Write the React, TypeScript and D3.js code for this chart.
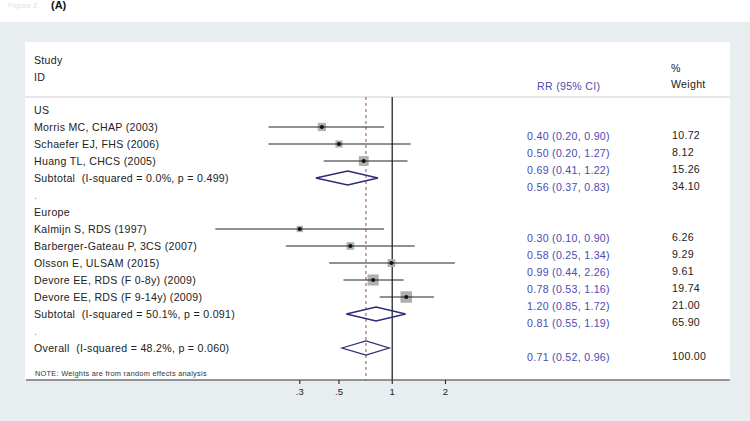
import * as d3 from "d3";

const WIDTH = 750;
const HEIGHT = 421;
const FONT = "'Liberation Sans', Arial, Helvetica, sans-serif";

// rows of the forest plot, top to bottom
const rowLabels = [
  "US",
  "Morris MC, CHAP (2003)",
  "Schaefer EJ, FHS (2006)",
  "Huang TL, CHCS (2005)",
  "Subtotal  (I-squared = 0.0%, p = 0.499)",
  ".",
  "Europe",
  "Kalmijn S, RDS (1997)",
  "Barberger-Gateau P, 3CS (2007)",
  "Olsson E, ULSAM (2015)",
  "Devore EE, RDS (F 0-8y) (2009)",
  "Devore EE, RDS (F 9-14y) (2009)",
  "Subtotal  (I-squared = 50.1%, p = 0.091)",
  ".",
  "Overall  (I-squared = 48.2%, p = 0.060)",
];
const rowKinds = [
  "group", "study", "study", "study", "pooled", "blank",
  "group", "study", "study", "study", "study", "study", "pooled", "blank",
  "pooled",
];
const rrValues = [null, 0.4, 0.5, 0.69, 0.56, null, null, 0.3, 0.58, 0.99, 0.78, 1.2, 0.81, null, 0.71];
const ciLower = [null, 0.2, 0.2, 0.41, 0.37, null, null, 0.1, 0.25, 0.44, 0.53, 0.85, 0.55, null, 0.52];
const ciUpper = [null, 0.9, 1.27, 1.22, 0.83, null, null, 0.9, 1.34, 2.26, 1.16, 1.72, 1.19, null, 0.96];
const weights = [null, 10.72, 8.12, 15.26, 34.1, null, null, 6.26, 9.29, 9.61, 19.74, 21.0, 65.9, null, 100.0];

const overallRR = 0.71;
const xTicks = [0.3, 0.5, 1, 2];
const xTickLabels = [".3", ".5", "1", "2"];

const PANEL = { left: 25, right: 730, top: 42, header: 97, axis: 380 };

// common text style: the source uses a wide Helvetica, so stretch a bit
const txt = { fontSize: 10.6, letterSpacing: 0.3, whiteSpace: "pre" as const };

export default function App() {
  const x = d3.scaleLog().domain([0.5, 2]).range([339, 445.5]);
  const y = d3.scaleLinear().domain([0, 14]).range([110, 348]);
  const boxSide = d3.scaleSqrt().domain([0, 21]).range([0, 11.5]);

  const blue = "#4b4bb3";
  const navy = "#2b2b7a";

  return (
    <svg
      width={WIDTH}
      height={HEIGHT}
      style={{ position: "absolute", left: 0, top: 0, fontFamily: FONT }}
    >
      <rect x={0} y={0} width={WIDTH} height={HEIGHT} fill="#ffffff" />
      <rect x={0} y={22} width={WIDTH} height={HEIGHT - 22} fill="#e8eef0" />
      <rect
        x={PANEL.left}
        y={PANEL.top}
        width={PANEL.right - PANEL.left}
        height={PANEL.axis - PANEL.top}
        fill="#ffffff"
      />

      <text x={8} y={8} fontSize={8} fill="#e2e2e2">Figure 2</text>
      <text x={51} y={9} fontSize={11} fontWeight="bold" fill="#111">(A)</text>

      {/* header */}
      <text x={34} y={60} dy="0.35em" style={txt} fill="#222">Study</text>
      <text x={34} y={77} dy="0.35em" style={txt} fill="#222">ID</text>
      <text x={537} y={86} dy="0.35em" style={txt} fill={blue}>RR (95% CI)</text>
      <text x={671} y={68} dy="0.35em" style={txt} fill="#222">%</text>
      <text x={671} y={84} dy="0.35em" style={txt} fill="#222">Weight</text>
      <line x1={PANEL.left} x2={PANEL.right} y1={PANEL.header} y2={PANEL.header} stroke="#cfcfcf" strokeWidth={1} />

      {/* reference lines */}
      <line
        x1={x(overallRR)}
        x2={x(overallRR)}
        y1={PANEL.header}
        y2={PANEL.axis}
        stroke="#a04848"
        strokeWidth={1}
        strokeDasharray="3,3"
      />
      <line x1={x(1)} x2={x(1)} y1={PANEL.header} y2={PANEL.axis} stroke="#444" strokeWidth={1.5} />

      {/* rows */}
      {rowLabels.map((label, i) => {
        const kind = rowKinds[i];
        const cy = y(i);
        const rr = rrValues[i];
        const lo = ciLower[i];
        const hi = ciUpper[i];
        const w = weights[i];
        return (
          <g key={i}>
            <text
              x={34}
              y={cy}
              dy="0.35em"
              style={txt}
              fill={kind === "blank" ? "#999" : "#222"}
            >
              {label}
            </text>
            {kind === "study" && rr != null && lo != null && hi != null && w != null && (
              <g>
                <rect
                  x={x(rr) - boxSide(w) / 2}
                  y={cy - boxSide(w) / 2}
                  width={boxSide(w)}
                  height={boxSide(w)}
                  fill="#b0b0b0"
                />
                <line x1={x(lo)} x2={x(hi)} y1={cy} y2={cy} stroke="#222" strokeWidth={1} />
                <circle cx={x(rr)} cy={cy} r={2} fill="#111" />
              </g>
            )}
            {kind === "pooled" && rr != null && lo != null && hi != null && (
              <path
                d={`M${x(lo)},${cy}L${x(rr)},${cy - 7}L${x(hi)},${cy}L${x(rr)},${cy + 7}Z`}
                fill="none"
                stroke={navy}
                strokeWidth={1.3}
              />
            )}
            {rr != null && lo != null && hi != null && w != null && (
              <g>
                <text x={527} y={cy + 9} dy="0.35em" style={txt} fill={blue}>
                  {`${rr.toFixed(2)} (${lo.toFixed(2)}, ${hi.toFixed(2)})`}
                </text>
                <text x={672} y={cy + 8} dy="0.35em" style={txt} fill="#222">
                  {w.toFixed(2)}
                </text>
              </g>
            )}
          </g>
        );
      })}

      <text x={35} y={373} dy="0.35em" fontSize={7.4} letterSpacing={0.25} fill="#333">
        NOTE: Weights are from random effects analysis
      </text>

      {/* x axis */}
      <line x1={PANEL.left + 1} x2={PANEL.right} y1={PANEL.axis} y2={PANEL.axis} stroke="#333" strokeWidth={1.2} />
      {xTicks.map((t, i) => (
        <g key={t} transform={`translate(${x(t)},${PANEL.axis})`}>
          <line y1={0} y2={4} stroke="#333" strokeWidth={1.2} />
          <text y={12} dy="0.35em" textAnchor="middle" fontSize={9.5} fill="#222">
            {xTickLabels[i]}
          </text>
        </g>
      ))}
    </svg>
  );
}
